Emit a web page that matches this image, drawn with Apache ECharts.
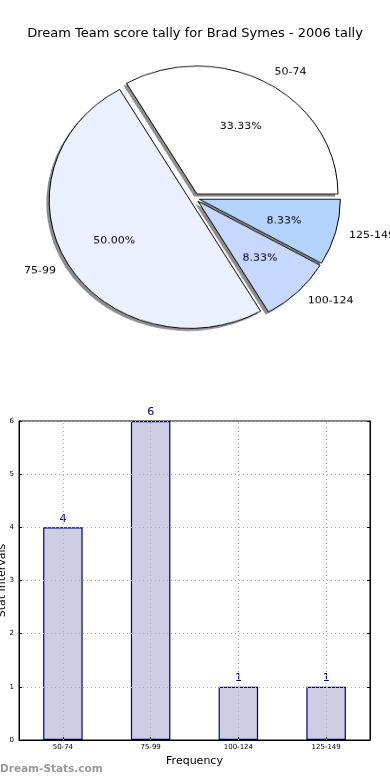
<!DOCTYPE html>
<html>
<head>
<meta charset="utf-8">
<script src="https://cdn.jsdelivr.net/npm/echarts@6/dist/echarts.min.js"></script>
<style>
html,body{margin:0;padding:0;background:#fff;}
#wrap{position:relative;width:390px;height:780px;}
#bar{position:absolute;left:0;top:0;width:390px;height:780px;}
#pie{position:absolute;left:0;top:0;width:390px;height:400px;transform-origin:0 198px;transform:scaleY(0.908);}
</style>
</head>
<body>
<div id="wrap"><div id="bar"></div><div id="pie"></div></div>
<script>
var titleText = 'Dream Team score tally for Brad Symes - 2006 tally';
var categories = ['50-74', '75-99', '100-124', '125-149'];
var counts = [4, 6, 1, 1];
var sliceColors = ['#ffffff', '#eaf0fe', '#c6d8ff', '#b4d4ff'];
var yTicks = [0, 1, 2, 3, 4, 5, 6];
var xAxisName = 'Frequency';
var yAxisName = 'Stat Intervals';
var watermark = 'Dream-Stats.com';

var FONT = 'DejaVu Sans';
var total = counts.reduce(function (a, b) { return a + b; }, 0);

var pieChart = echarts.init(document.getElementById('pie'), null, {renderer: 'canvas'});
var CX = 194.5, CY = 198, R = 141;
function sliceData(withColor) {
  return categories.map(function (c, i) {
    var d = {name: c, value: counts[i], selected: true};
    if (withColor) d.itemStyle = {color: sliceColors[i]};
    return d;
  });
}
var pieBase = {
  type: 'pie', startAngle: 0, clockwise: false,
  selectedMode: 'multiple', selectedOffset: 5,
  avoidLabelOverlap: false, silent: true
};
pieChart.setOption({
  animation: false,
  series: [
    Object.assign({}, pieBase, {
      center: [CX - 2.8, CY + 2.9], radius: R, z: 1,
      itemStyle: {color: '#8e8e8e', borderWidth: 0},
      select: {itemStyle: {color: '#8e8e8e', borderWidth: 0}},
      label: {show: false}, labelLine: {show: false},
      data: sliceData(false)
    }),
    Object.assign({}, pieBase, {
      center: [CX, CY], radius: R, z: 2,
      itemStyle: {borderColor: '#000', borderWidth: 1},
      select: {itemStyle: {borderColor: '#000', borderWidth: 1}},
      label: {show: true, position: 'outside', formatter: '{b}', fontFamily: FONT, fontSize: 11, color: '#000', distanceToLabelLine: 0},
      labelLine: {show: false, length: 14, length2: 0},
      data: sliceData(true)
    }),
    Object.assign({}, pieBase, {
      center: [CX, CY + 1], radius: [0.2 * R, R], z: 3,
      itemStyle: {color: 'rgba(0,0,0,0)', borderWidth: 0},
      select: {itemStyle: {color: 'rgba(0,0,0,0)', borderWidth: 0}},
      label: {
        show: true, position: 'inside', fontFamily: FONT, fontSize: 11, color: '#000',
        formatter: function (p) { return (p.value / total * 100).toFixed(2) + '%'; }
      },
      labelLine: {show: false},
      data: sliceData(false)
    })
  ]
});

var barChart = echarts.init(document.getElementById('bar'), null, {renderer: 'canvas'});
var dotted = {color: '#b0b0b0', width: 1, type: [1, 3]};
barChart.setOption({
  animation: false,
  title: {
    text: titleText, left: 'center', top: 22,
    textStyle: {fontFamily: FONT, fontSize: 13, fontWeight: 'normal', color: '#000'}
  },
  graphic: [{
    type: 'text', left: 0, top: 764,
    style: {text: watermark, fontFamily: FONT, fontSize: 10.5, fontWeight: 'bold', fill: '#999'}
  }],
  grid: {left: 19, right: 20, top: 421, bottom: 40, show: true, borderColor: '#000', borderWidth: 1, z: 4,
    containLabel: false, outerBoundsMode: 'none'},
  xAxis: {
    type: 'category', data: categories,
    name: xAxisName, nameLocation: 'middle', nameGap: 16, nameMoveOverlap: false,
    nameTextStyle: {fontFamily: FONT, fontSize: 11, color: '#000'},
    axisLine: {lineStyle: {color: '#000'}},
    axisTick: {show: true, inside: true, alignWithLabel: true, length: 3, lineStyle: {color: '#000'}},
    axisLabel: {fontFamily: FONT, fontSize: 7, color: '#000', margin: 4},
    splitLine: {show: false},
    z: 4
  },
  yAxis: [{
    type: 'value', min: 0, max: 6, interval: 1,
    name: yAxisName, nameLocation: 'middle', nameGap: 11, nameRotate: 90, nameMoveOverlap: false,
    nameTextStyle: {fontFamily: FONT, fontSize: 11, color: '#000'},
    axisLine: {show: true, lineStyle: {color: '#000'}},
    axisTick: {show: true, inside: true, length: 3, lineStyle: {color: '#000'}},
    axisLabel: {fontFamily: FONT, fontSize: 7, color: '#000', margin: 5,
      formatter: function (v) { return yTicks.indexOf(v) >= 0 ? String(v) : ''; }},
    splitLine: {show: true, lineStyle: dotted},
    z: 4
  }, {
    type: 'value', min: 0, max: 6, interval: 1, position: 'right',
    axisLine: {show: true, lineStyle: {color: '#000'}},
    axisTick: {show: true, inside: true, length: 3, lineStyle: {color: '#000'}},
    axisLabel: {show: false},
    splitLine: {show: false},
    z: 4
  }],
  series: [{
    type: 'bar',
    data: counts,
    barWidth: '45%',
    itemStyle: {color: '#cdcde4', borderColor: '#000080', borderWidth: 1.2},
    label: {show: true, position: 'top', distance: 3, fontFamily: FONT, fontSize: 11, color: '#000080'},
    markLine: {
      silent: true, symbol: 'none', label: {show: false},
      lineStyle: dotted,
      data: categories.map(function (c) { return {xAxis: c}; })
    }
  }]
});
</script>
</body>
</html>
